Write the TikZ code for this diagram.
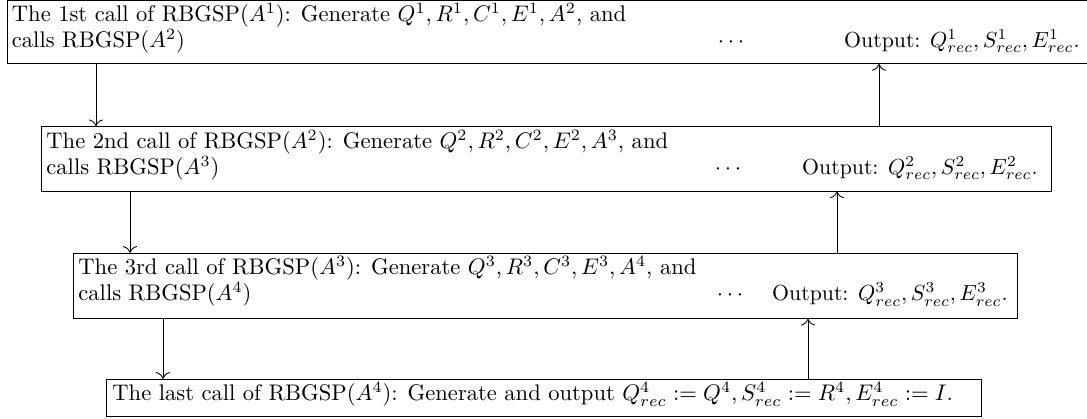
\RequirePackage{fix-cm}
\documentclass[tikz,border=0pt]{standalone}
\usepackage{amsmath}
\usetikzlibrary{fit,arrows.meta}
\begin{document}
\begin{tikzpicture}[x=0.4608pt,y=-0.4608pt,
  font=\fontsize{10.4pt}{12.5pt}\selectfont,
  callbox/.style={draw, line width=0.4pt, inner sep=0pt},
  txt/.style={inner sep=0pt, anchor=base west},
  outtxt/.style={inner sep=0pt, anchor=base east, font=\fontsize{10.05pt}{12pt}\selectfont},
  dotsnode/.style={inner sep=0pt, anchor=base},
  conn/.style={-{To[scale=1.25]}, line width=0.4pt}]
\useasboundingbox (0,0) rectangle (1087,419);
% boxes
\node[callbox, fit={(7,0) (1100,63.5)}] (b1) {};
\node[callbox, fit={(41,126.7) (1051,191)}] (b2) {};
\node[callbox, fit={(73.3,253.3) (1017,318.3)}] (b3) {};
\node[callbox, fit={(106.7,379.3) (981,416.7)}] (b4) {};
% texts box 1
\node[txt] (t1a) at (11.5,21.5) {The 1st call of RBGSP$(A^1)$: Generate $Q^1, R^1, C^1, E^1, A^2$, and};
\node[txt] (t1b) at (11.5,47.5) {calls RBGSP$(A^2)$};
\node[dotsnode] (d1) at (733,47.5) {$\cdots$};
\node[outtxt] (o1) at (1080,47.5) {Output: $Q^1_{rec}, S^1_{rec}, E^1_{rec}$.};
% texts box 2
\node[txt] (t2a) at (46,148.2) {The 2nd call of RBGSP$(A^2)$: Generate $Q^2, R^2, C^2, E^2, A^3$, and};
\node[txt] (t2b) at (46,174.2) {calls RBGSP$(A^3)$};
\node[dotsnode] (d2) at (730,174.2) {$\cdots$};
\node[outtxt] (o2) at (1038,174.2) {Output: $Q^2_{rec}, S^2_{rec}, E^2_{rec}$.};
% texts box 3
\node[txt] (t3a) at (78,274.8) {The 3rd call of RBGSP$(A^3)$: Generate $Q^3, R^3, C^3, E^3, A^4$, and};
\node[txt] (t3b) at (78,300.8) {calls RBGSP$(A^4)$};
\node[dotsnode] (d3) at (732,300.8) {$\cdots$};
\node[outtxt] (o3) at (1008,300.8) {Output: $Q^3_{rec}, S^3_{rec}, E^3_{rec}$.};
% text box 4
\node[txt] (t4) at (112,400.8) {The last call of RBGSP$(A^4)$: Generate and output $Q^4_{rec} := Q^4, S^4_{rec} := R^4, E^4_{rec} := I$.};
% connector positions
\coordinate (x1) at (96,0);
\coordinate (x2) at (130,0);
\coordinate (x3) at (163,0);
\coordinate (u1) at (879,0);
\coordinate (u2) at (837,0);
\coordinate (u3) at (808,0);
% down arrows
\draw[conn] (b1.south -| x1) -- (b2.north -| x1);
\draw[conn] (b2.south -| x2) -- (b3.north -| x2);
\draw[conn] (b3.south -| x3) -- (b4.north -| x3);
% up arrows
\draw[conn] (b2.north -| u1) -- (b1.south -| u1);
\draw[conn] (b3.north -| u2) -- (b2.south -| u2);
\draw[conn] (b4.north -| u3) -- (b3.south -| u3);
\end{tikzpicture}
\end{document}
